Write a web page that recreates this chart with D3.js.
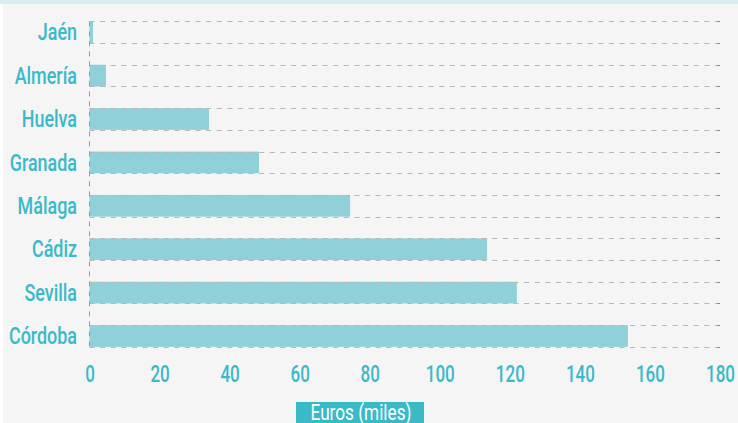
<!DOCTYPE html>
<html><head><meta charset="utf-8">
<script src="https://cdn.jsdelivr.net/npm/d3@7"></script>
<style>
html,body{margin:0;padding:0;background:#ffffff;}
svg{display:block;}
text{font-family:Roboto,"DejaVu Sans Condensed",sans-serif;}
</style></head>
<body>
<svg id="chart" width="738" height="423"></svg>
<script>
const categories = ["Jaén","Almería","Huelva","Granada","Málaga","Cádiz","Sevilla","Córdoba"];
const values = [1, 4.7, 34.1, 48.4, 74.4, 113.5, 122, 153.7];
const xTicks = [0,20,40,60,80,100,120,140,160,180];
const axisTitle = "Euros (miles)";

const svg = d3.select("#chart");
const W = 738, H = 423;
const textColor = "#3ab9c9";
const FONT = 'Roboto,"DejaVu Sans Condensed",sans-serif';

svg.append("rect").attr("x",3).attr("y",0).attr("width",W-3).attr("height",H).attr("fill","#f5f5f5");
svg.append("rect").attr("x",0).attr("y",0).attr("width",W).attr("height",4).attr("fill","#d9eef2");

const x = d3.scaleLinear().domain([0,180]).range([89.5,720]);
const y = d3.scaleBand().domain(categories).range([10.5,357.7]).paddingInner(0.5).paddingOuter(0.25);

// bars
svg.append("g").selectAll("rect").data(categories).join("rect")
  .attr("x", x(0))
  .attr("y", d => y(d))
  .attr("width", (d,i) => x(values[i]) - x(0))
  .attr("height", y.bandwidth())
  .attr("fill", "#8fd0d9");

// horizontal dashed gridlines at band edges
const edges = [];
categories.forEach(c => { edges.push(y(c)); edges.push(y(c)+y.bandwidth()); });
const grid = svg.append("g");
grid.selectAll("line").data(edges).join("line")
  .attr("x1", x(0)).attr("x2", x(180)-2)
  .attr("y1", d => Math.round(d)+0.5).attr("y2", d => Math.round(d)+0.5)
  .attr("stroke", "#b8b8b8").attr("stroke-width",1).attr("stroke-dasharray","5,5.6");
grid.selectAll("line.end").data(edges).join("line").attr("class","end")
  .attr("x1", x(180)-3).attr("x2", x(180))
  .attr("y1", d => Math.round(d)+0.5).attr("y2", d => Math.round(d)+0.5)
  .attr("stroke", "#888").attr("stroke-width",1);

// vertical axis dashed line
svg.append("line")
  .attr("x1", x(0)).attr("x2", x(0))
  .attr("y1", y(categories[0])).attr("y2", y(categories[categories.length-1]) + y.bandwidth())
  .attr("stroke", "#999").attr("stroke-width",1).attr("stroke-dasharray","5,5");

// y labels
const yAxis = d3.axisLeft(y).tickSize(0).tickPadding(0);
const ya = svg.append("g").attr("transform", `translate(${77},0)`).call(yAxis);
ya.select(".domain").remove();
ya.selectAll("text").attr("fill", textColor).attr("font-size", "23px").attr("font-weight","500")
  .style("font-family", FONT)
  .attr("x", 0).attr("dy", "0.36em")
  .attr("transform", "scale(0.78,1)");

// x ticks
const xAxis = d3.axisBottom(x).tickValues(xTicks).tickSize(0).tickPadding(0);
const xa = svg.append("g").attr("transform", `translate(0,${382})`).call(xAxis);
xa.select(".domain").remove();
xa.selectAll("text").attr("fill", textColor).attr("font-size","23px").attr("font-weight","500")
  .style("font-family", FONT)
  .attr("dy","0").attr("y",0)
  .attr("transform", "scale(0.74,1)");

// axis title box
svg.append("rect").attr("x",296).attr("y",402).attr("width",128).attr("height",24).attr("fill","#3ab9c6");
svg.append("g").attr("transform","translate(361,420)")
  .append("text").attr("x",0).attr("y",0).attr("text-anchor","middle")
  .attr("transform","scale(0.8,1)")
  .attr("fill","#ffffff").attr("font-size","21.5px").attr("font-weight","400")
  .style("font-family", FONT).text(axisTitle);
</script>
</body></html>
